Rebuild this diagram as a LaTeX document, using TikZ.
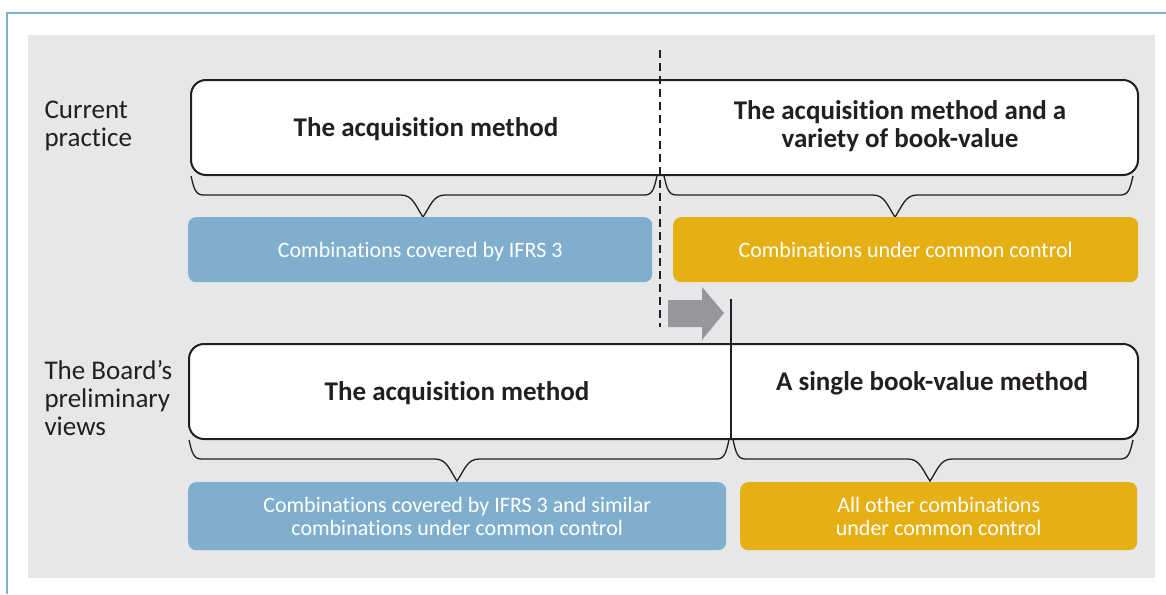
\documentclass[tikz,border=0pt]{standalone}
\usepackage{fontspec}
\setmainfont{Carlito}[Ligatures=NoCommon]
\usepackage{tikz}
\usetikzlibrary{arrows.meta, positioning}

\definecolor{FrameBlue}{RGB}{128,178,208}
\definecolor{BgGray}{RGB}{230,231,233}
\definecolor{GroupBlue}{RGB}{127,175,205}
\definecolor{GroupGold}{RGB}{230,176,20}
\definecolor{ArrowGray}{RGB}{150,151,154}
\definecolor{InkDark}{RGB}{35,31,32}

% curly bracket under a method box: left end, tip, right end, top
\newcommand{\groupbrace}[4]{%
  \draw[bracket] (#1,#4) to[out=-75,in=180] (#1+12,#4+19) -- (#2-22,#4+19)
     to[out=0,in=125] (#2,#4+41) to[out=55,in=180] (#2+22,#4+19)
     -- (#3-12,#4+19) to[out=0,in=-105] (#3,#4);}

\begin{document}
\begin{tikzpicture}[x=1pt,y=-1pt,
    methodbox/.style={draw=InkDark, line width=2pt, fill=white, rounded corners=15pt,
        anchor=north west, minimum height=95pt},
    methodtext/.style={font=\fontsize{27}{28}\selectfont\bfseries, text=InkDark, align=center},
    groupbox/.style={rounded corners=8pt, anchor=north west, text=white, align=center,
        font=\fontsize{22}{23.5}\selectfont, inner sep=0pt, text depth=0pt},
    rowlabel/.style={font=\fontsize{27}{28}\selectfont, text=InkDark, align=left, anchor=west},
    bracket/.style={draw=InkDark, line width=1.3pt}]

  \useasboundingbox (0,0) rectangle (1166,594);
  \draw[FrameBlue, line width=2pt] (7,594) -- (7,13) -- (1166,13);
  \fill[BgGray] (28,35) rectangle (1155,578);

  % current practice
  \node[rowlabel] (nowlabel) at (41,126) {Current\\practice};
  \node[methodbox, minimum width=947pt] (nowbox) at (190,79) {};
  \node[methodtext] (acqnow) at (426,129) {The acquisition method};
  \node[methodtext] (mixnow) at (900,126) {The acquisition method and a\\variety of book-value};
  \groupbrace{191}{423}{657}{176}
  \groupbrace{664}{895}{1133}{176}
  \node[groupbox, fill=GroupBlue, minimum width=464pt, minimum height=65pt] (ifrsnow) at (188,217)
      {Combinations covered by IFRS 3};
  \node[groupbox, fill=GroupGold, minimum width=465pt, minimum height=65pt] (ucc) at (673,217)
      {Combinations under common control};
  \draw[InkDark, line width=1.5pt, dash pattern=on 8pt off 5pt] (660,50) -- (660,327);

  % shift of the boundary
  \fill[ArrowGray] (668,300) -- (702,300) -- (702,287) -- (724,313) -- (702,340)
      -- (702,327) -- (668,327) -- cycle;

  % board's preliminary views
  \node[rowlabel] (boardlabel) at (41,398) {The Board’s\\preliminary\\views};
  \node[methodbox, minimum width=949pt] (boardbox) at (188,343) {};
  \draw[InkDark, line width=1.5pt] (731,299) -- (731,438);
  \node[methodtext] (acqboard) at (457,393) {The acquisition method};
  \node[methodtext] (bookboard) at (932,383) {A single book-value method};
  \groupbrace{189}{457}{729}{440}
  \groupbrace{733}{930}{1133}{440}
  \node[groupbox, fill=GroupBlue, minimum width=538pt, minimum height=68pt] (ifrsboard) at (188,482)
      {Combinations covered by IFRS 3 and similar\\combinations under common control};
  \node[groupbox, fill=GroupGold, minimum width=397pt, minimum height=68pt] (otherboard) at (740,482)
      {All other combinations\\under common control};
\end{tikzpicture}
\end{document}
